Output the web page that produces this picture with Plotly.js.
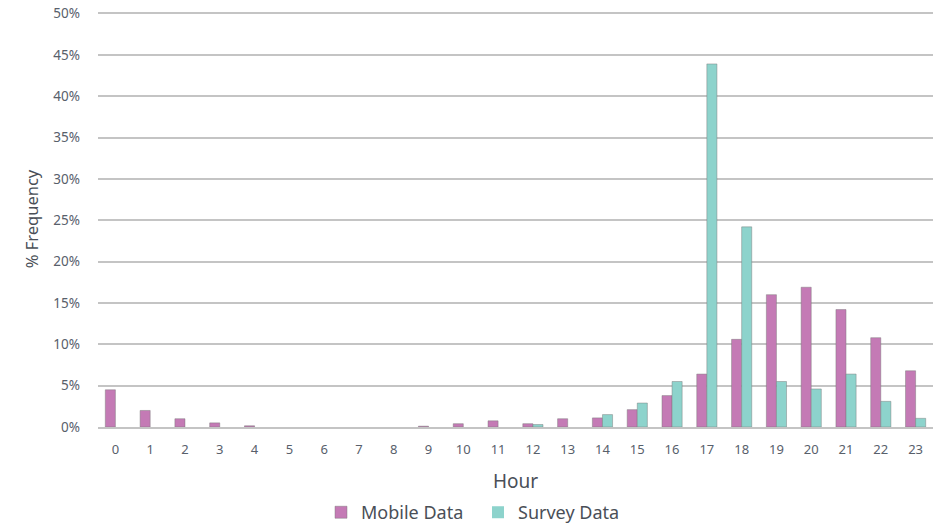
<!DOCTYPE html>
<html>
<head>
<meta charset="utf-8">
<script src="https://cdn.plot.ly/plotly-3.0.1.min.js"></script>
<style>html,body{margin:0;padding:0;background:#fff;}#chart{width:939px;height:523px;}</style>
</head>
<body>
<div id="chart"></div>
<script>
const hours = ['0','1','2','3','4','5','6','7','8','9','10','11','12','13','14','15','16','17','18','19','20','21','22','23'];
const mobileData = [4.5, 2.0, 1.0, 0.5, 0.15, 0, 0, 0, 0, 0.1, 0.4, 0.75, 0.4, 1.0, 1.1, 2.1, 3.8, 6.4, 10.6, 16.0, 16.9, 14.2, 10.8, 6.8];
const surveyData = [0, 0, 0, 0, 0, 0, 0, 0, 0, 0, 0, 0, 0.3, 0, 1.5, 2.9, 5.5, 43.9, 24.2, 5.5, 4.6, 6.4, 3.1, 1.05];
const yTicks = [0,5,10,15,20,25,30,35,40,45,50];
const yTickText = yTicks.map(v => v + '%');

const font = "'Noto Sans', 'Open Sans', sans-serif";
const edge = vals => vals.map(v => v > 0 ? 1 : 0);
const traces = [
  {type:'bar', name:'Mobile Data', x:hours, y:mobileData,
   marker:{color:'#c47ab5', line:{color:'rgba(120,120,120,0.45)', width:edge(mobileData)}}},
  {type:'bar', name:'Survey Data', x:hours, y:surveyData,
   marker:{color:'#8dd3cc', line:{color:'rgba(120,120,120,0.45)', width:edge(surveyData)}}}
];
const layout = {
  width:939, height:523,
  margin:{l:98, r:6, t:11, b:96},
  paper_bgcolor:'#fff', plot_bgcolor:'#fff',
  barmode:'group', bargap:0.42, bargroupgap:0,
  font:{family:font, color:'#58606b', size:12},
  xaxis:{type:'category', range:[-0.5,23.5], showgrid:false, zeroline:false,
    showline:true, linecolor:'#c4c4c4', linewidth:2, ticks:'',
    tickfont:{size:13, color:'#58606b'}, ticklabelstandoff:9,
    title:{text:'Hour', font:{size:19, color:'#4a4f57'}, standoff:23}},
  yaxis:{range:[0,50.3], tickvals:yTicks, ticktext:yTickText, showgrid:true,
    gridcolor:'#c4c4c4', gridwidth:2, zeroline:false, showline:false, ticks:'',
    ticklabelstandoff:17,
    tickfont:{size:13.5, color:'#58606b'},
    title:{text:'% Frequency', font:{size:16.5, color:'#4a4f57'}, standoff:10}},
  legend:{orientation:'h', xref:'container', yref:'container', x:321/939, xanchor:'left',
    y:0.02, yanchor:'middle', entrywidth:112, entrywidthmode:'pixels',
    font:{size:18, color:'#4a4f57'}, traceorder:'normal'},
  showlegend:true
};
Plotly.newPlot('chart', traces, layout, {displayModeBar:false, staticPlot:true});
</script>
</body>
</html>
